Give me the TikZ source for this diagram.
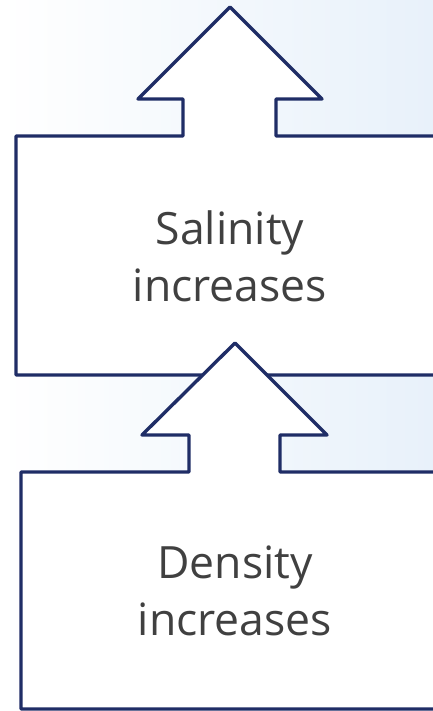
\documentclass[tikz,border=0pt]{standalone}
\usepackage{fontspec}
\setmainfont{Open Sans}
\definecolor{navy}{HTML}{1F2D66}
\definecolor{txt}{HTML}{404040}
\definecolor{bgblue}{HTML}{E8F1FA}
\begin{document}
\begin{tikzpicture}[x=1pt,y=-1pt,
  outline/.style={draw=navy,line width=3.4pt,fill=white,line join=round},
  lbl/.style={text=txt,font=\fontsize{44.5}{57}\selectfont,align=center}]
\useasboundingbox (0,0) rectangle (433,711);
\shade[left color=white,right color=bgblue] (0,0) rectangle (433,711);
% upper shape
\draw[outline] (440,136) -- (276,136) -- (276,99) -- (322,99) -- (230,7) -- (138,99) -- (183,99) -- (183,136) -- (16,136) -- (16,375) -- (440,375);
% lower shape
\draw[outline] (440,472) -- (280,472) -- (280,435) -- (327,435) -- (235,343) -- (142,435) -- (189,435) -- (189,472) -- (21,472) -- (21,709) -- (440,709);
\node[lbl] (sal) at (230,256) {Salinity\\increases};
\node[lbl] (den) at (235,591) {Density\\increases};
\end{tikzpicture}
\end{document}
